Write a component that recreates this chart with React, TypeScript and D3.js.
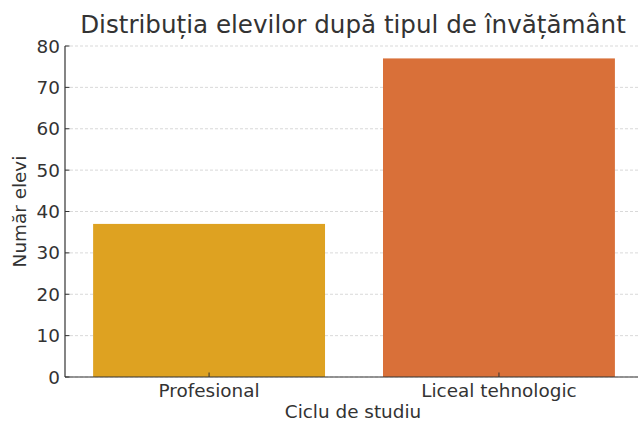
import React from "react";
import * as d3 from "d3";

const categories = ["Profesional", "Liceal tehnologic"];
const values = [37, 77];
const colors = ["#DEA221", "#D97039"];
const yTicks = [0, 10, 20, 30, 40, 50, 60, 70, 80];
const title = "Distribuția elevilor după tipul de învățământ";
const xLabel = "Ciclu de studiu";
const yLabel = "Număr elevi";

export default function App() {
  const W = 638, H = 422;
  const left = 65, right = 641, top = 46, bottom = 377;
  const x = d3.scaleLinear().domain([-0.497, 1.49]).range([left, right]);
  const y = d3.scaleLinear().domain([0, 80]).range([bottom, top]);
  const bw = 0.8;
  const font = "DejaVu Sans, sans-serif";
  const txt = "#333";
  const fs = 18.4;
  return (
    <svg width={W} height={H} style={{ position: "absolute", left: 0, top: 0, background: "#fff" }} fontFamily={font}>
      {yTicks.map((t) => (
        <line key={"g" + t} x1={left} x2={right} y1={y(t)} y2={y(t)} stroke="#cfcfcf" strokeWidth={0.8} strokeDasharray="3,2" />
      ))}
      {categories.map((c, i) => (
        <rect key={c} x={x(i - bw / 2)} width={x(i + bw / 2) - x(i - bw / 2)} y={y(values[i])} height={y(0) - y(values[i])} fill={colors[i]} />
      ))}
      <line x1={left} x2={left} y1={top} y2={bottom} stroke="#333" strokeWidth={1.2} />
      <line x1={left} x2={right} y1={bottom} y2={bottom} stroke="#333" strokeWidth={1.2} />
      {yTicks.map((t) => (
        <g key={"t" + t}>
          <line x1={left} x2={left + 4.5} y1={y(t)} y2={y(t)} stroke="#333" strokeWidth={1} />
          <text x={left - 5} y={y(t)} dy="0.36em" textAnchor="end" fontSize={fs} fill={txt}>{t}</text>
        </g>
      ))}
      {categories.map((c, i) => (
        <g key={"x" + c}>
          <line x1={x(i)} x2={x(i)} y1={bottom} y2={bottom - 4.5} stroke="#333" strokeWidth={1} />
          <text x={x(i)} y={396.7} textAnchor="middle" fontSize={fs} fill={txt}>{c}</text>
        </g>
      ))}
      <text x={(left + right) / 2} y={417.5} textAnchor="middle" fontSize={fs} fill={txt}>{xLabel}</text>
      <text transform={`translate(25.5,${(top + bottom) / 2}) rotate(-90)`} textAnchor="middle" fontSize={fs} fill={txt}>{yLabel}</text>
      <text x={(left + right) / 2} y={32.5} textAnchor="middle" fontSize={24.6} fill={txt}>{title}</text>
    </svg>
  );
}
